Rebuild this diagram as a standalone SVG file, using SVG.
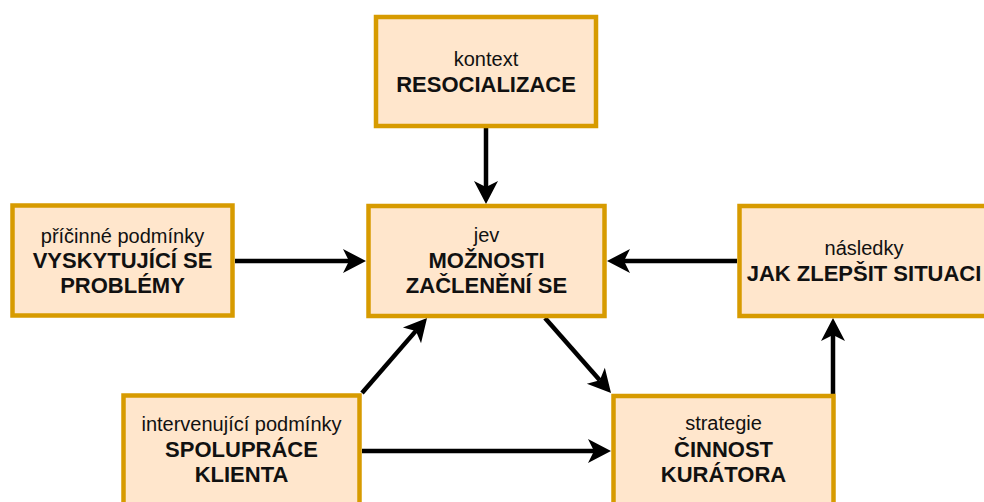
<svg xmlns="http://www.w3.org/2000/svg" width="984" height="502" viewBox="0 0 984 502">
<style>
.box{fill:#ffe6cc;stroke:#d79b00;stroke-width:4.5}
.t{font-family:"Liberation Sans",Arial,Helvetica,sans-serif;fill:#111;text-anchor:middle}
.n{font-size:20px}
.b{font-size:22px;font-weight:bold}
.c{stroke:#000;stroke-width:4.5;fill:none}
</style>
<defs>
<marker id="ah" markerUnits="userSpaceOnUse" viewBox="-7 -13 25 26" markerWidth="25" markerHeight="26" refX="0" refY="0" orient="auto">
<path d="M17,0 L-6,-12 L0,0 L-6,12 Z" fill="#000"/>
</marker>
</defs>
<rect width="984" height="502" fill="#fff"/>
<g id="connectors">
<path class="c" d="M486,128 L486,187" marker-end="url(#ah)"/>
<path class="c" d="M235,261 L349,261" marker-end="url(#ah)"/>
<path class="c" d="M737,261 L624,261" marker-end="url(#ah)"/>
<path class="c" d="M362,393 L415.9,330.9" marker-end="url(#ah)"/>
<path class="c" d="M545,318 L599.8,380.2" marker-end="url(#ah)"/>
<path class="c" d="M362,451 L594,451" marker-end="url(#ah)"/>
<path class="c" d="M833,394 L833,335" marker-end="url(#ah)"/>
</g>
<g id="kontext">
<rect class="box" x="376" y="17" width="220" height="109"/>
<text class="t n" x="486" y="66">kontext</text>
<text class="t b" x="486" y="92">RESOCIALIZACE</text>
</g>
<g id="pricinne">
<rect class="box" x="12.5" y="205.5" width="220" height="110"/>
<text class="t n" x="122.5" y="243">příčinné podmínky</text>
<text class="t b" x="122.5" y="268">VYSKYTUJÍCÍ SE</text>
<text class="t b" x="122.5" y="293">PROBLÉMY</text>
</g>
<g id="jev">
<rect class="box" x="368.5" y="206" width="236" height="110"/>
<text class="t n" x="486.5" y="242">jev</text>
<text class="t b" x="486.5" y="268">MOŽNOSTI</text>
<text class="t b" x="486.5" y="293">ZAČLENĚNÍ SE</text>
</g>
<g id="nasledky">
<rect class="box" x="739.5" y="206" width="250" height="110"/>
<text class="t n" x="864" y="255">následky</text>
<text class="t b" x="864" y="281">JAK ZLEPŠIT SITUACI</text>
</g>
<g id="intervenujici">
<rect class="box" x="123.5" y="395.5" width="236" height="110"/>
<text class="t n" x="241.5" y="431">intervenující podmínky</text>
<text class="t b" x="241.5" y="457">SPOLUPRÁCE</text>
<text class="t b" x="241.5" y="482">KLIENTA</text>
</g>
<g id="strategie">
<rect class="box" x="613.5" y="396" width="220" height="110"/>
<text class="t n" x="723.5" y="430">strategie</text>
<text class="t b" x="723.5" y="457">ČINNOST</text>
<text class="t b" x="723.5" y="482">KURÁTORA</text>
</g>
</svg>
